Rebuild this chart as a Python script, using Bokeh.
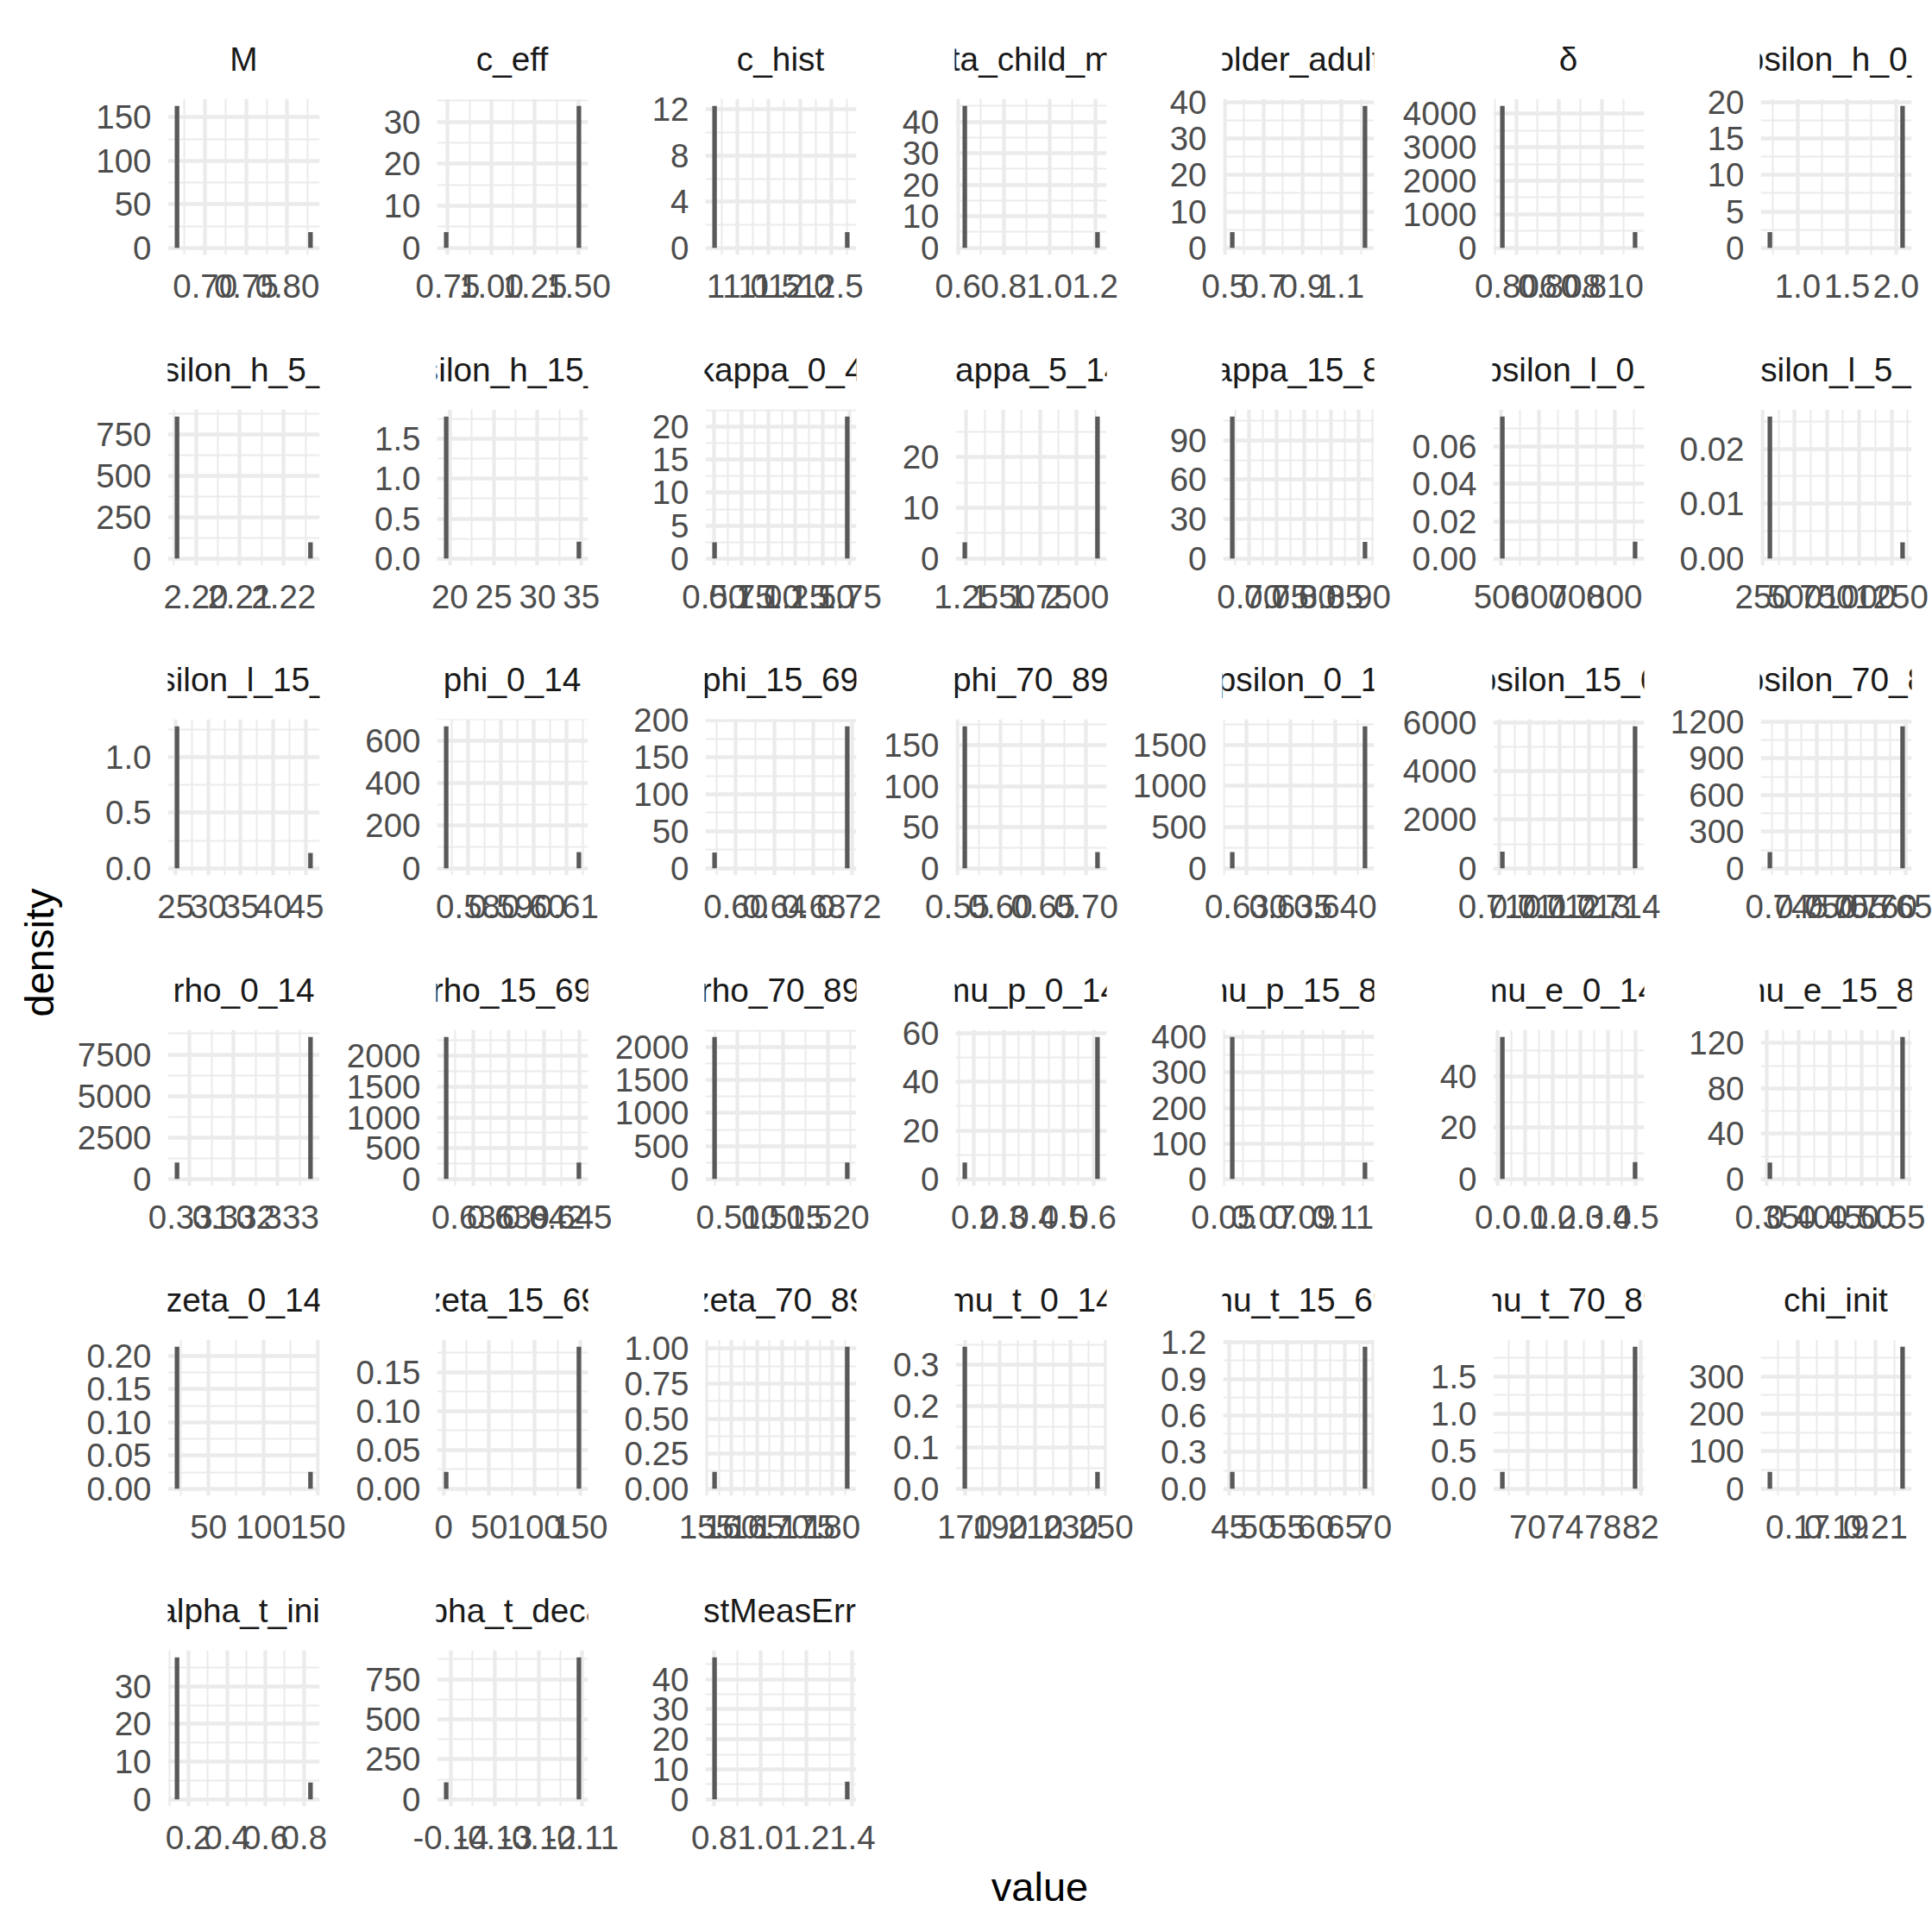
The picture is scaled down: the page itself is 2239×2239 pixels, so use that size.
import math
from bokeh.plotting import figure
from bokeh.layouts import row, column
from bokeh.models import Range1d, FixedTicker, CustomJSTickFormatter, ColumnDataSource, AllLabels
from bokeh.core.properties import value
from bokeh.embed import file_html
from bokeh.resources import INLINE

# ---------------- data ----------------
params = ["M", "c_eff", "c_hist", "beta_child_mult", "older_adult", "δ", "epsilon_h_0_4",
          "epsilon_h_5_14", "epsilon_h_15_89", "kappa_0_4", "kappa_5_14", "kappa_15_89", "epsilon_l_0_4", "epsilon_l_5_14",
          "epsilon_l_15_89", "phi_0_14", "phi_15_69", "phi_70_89", "upsilon_0_14", "upsilon_15_69", "upsilon_70_89",
          "rho_0_14", "rho_15_69", "rho_70_89", "mu_p_0_14", "mu_p_15_89", "mu_e_0_14", "mu_e_15_89",
          "zeta_0_14", "zeta_15_69", "zeta_70_89", "mu_t_0_14", "mu_t_15_69", "mu_t_70_89", "chi_init",
          "alpha_t_init", "alpha_t_decay", "testMeasError"]

lo_value = [0.6658, 0.741, 10.63, 0.63, 0.5395, 0.80536, 0.716,
            2.1957, 19.58, 0.503, 1.24, 0.669, 503, 307,
            25.19, 0.5733, 0.5782, 0.5586, 0.62845, 0.71009, 0.74215,
            0.33071, 0.63373, 0.50745, 0.169, 0.0545, 0.0167, 0.3544,
            21.2, 2.7, 156.6, 170.0, 45.53, 67.32, 0.1556,
            0.1406, -0.14105, 0.8013]
hi_value = [0.8282, 1.502, 12.76, 1.21, 1.2217, 0.81153, 2.066,
            2.2261, 34.72, 1.730, 2.14, 0.9118, 853.5, 1336,
            45.76, 0.6138, 0.7146, 0.7136, 0.64334, 0.71454, 0.76453,
            0.33375, 0.64499, 0.52215, 0.614, 0.1212, 0.4967, 0.5651,
            143.2, 148.6, 182.9, 245.3, 68.51, 81.41, 0.2240,
            0.8337, -0.11077, 1.3773]
lo_density = [163, 3.76, 12.3, 45.0, 4.33, 4230, 2.17,
              857, 1.78, 2.46, 3.2, 108, 0.0762, 0.0259,
              1.278, 667, 21.2, 173, 197, 686, 132.6,
              989, 2309, 2155, 6.76, 400, 55.4, 14.5,
              0.214, 0.0218, 0.121, 0.3445, 0.139, 0.226, 45,
              37.7, 106, 47.3]
hi_density = [18.2, 33.8, 1.37, 5.0, 39.0, 470, 19.5,
              98, 0.21, 21.55, 28.0, 12.7, 0.0090, 0.00296,
              0.139, 76, 192, 19.7, 1724, 5837, 1163,
              8556, 267, 249, 58.5, 46, 6.6, 125.5,
              0.0255, 0.1826, 1.014, 0.0411, 1.165, 1.896, 379,
              4.5, 887, 5.9]

x_tick_labels = [
    ["0.70", "0.75", "0.80"], ["0.75", "1.00", "1.25", "1.50"], ["11.0", "11.5", "12.0", "12.5"],
    ["0.6", "0.8", "1.0", "1.2"], ["0.5", "0.7", "0.9", "1.1"], ["0.806", "0.808", "0.810"],
    ["1.0", "1.5", "2.0"],
    ["2.20", "2.21", "2.22"], ["20", "25", "30", "35"], ["0.50", "0.75", "1.00", "1.25", "1.50", "1.75"],
    ["1.25", "1.50", "1.75", "2.00"], ["0.70", "0.75", "0.80", "0.85", "0.90"], ["500", "600", "700", "800"],
    ["250", "500", "750", "1000", "1250"],
    ["25", "30", "35", "40", "45"], ["0.58", "0.59", "0.60", "0.61"], ["0.60", "0.64", "0.68", "0.72"],
    ["0.55", "0.60", "0.65", "0.70"], ["0.630", "0.635", "0.640"], ["0.710", "0.711", "0.712", "0.713", "0.714"],
    ["0.745", "0.750", "0.755", "0.760", "0.765"],
    ["0.331", "0.332", "0.333"], ["0.636", "0.639", "0.642", "0.645"], ["0.510", "0.515", "0.520"],
    ["0.2", "0.3", "0.4", "0.5", "0.6"], ["0.05", "0.07", "0.09", "0.11"], ["0.0", "0.1", "0.2", "0.3", "0.4", "0.5"],
    ["0.35", "0.40", "0.45", "0.50", "0.55"],
    ["50", "100", "150"], ["0", "50", "100", "150"], ["155", "160", "165", "170", "175", "180"],
    ["170", "190", "210", "230", "250"], ["45", "50", "55", "60", "65", "70"], ["70", "74", "78", "82"],
    ["0.17", "0.19", "0.21"],
    ["0.2", "0.4", "0.6", "0.8"], ["-0.14", "-0.13", "-0.12", "-0.11"], ["0.8", "1.0", "1.2", "1.4"]]

y_tick_labels = [
    ["0", "50", "100", "150"], ["0", "10", "20", "30"], ["0", "4", "8", "12"], ["0", "10", "20", "30", "40"],
    ["0", "10", "20", "30", "40"], ["0", "1000", "2000", "3000", "4000"], ["0", "5", "10", "15", "20"],
    ["0", "250", "500", "750"], ["0.0", "0.5", "1.0", "1.5"], ["0", "5", "10", "15", "20"], ["0", "10", "20"],
    ["0", "30", "60", "90"], ["0.00", "0.02", "0.04", "0.06"], ["0.00", "0.01", "0.02"],
    ["0.0", "0.5", "1.0"], ["0", "200", "400", "600"], ["0", "50", "100", "150", "200"], ["0", "50", "100", "150"],
    ["0", "500", "1000", "1500"], ["0", "2000", "4000", "6000"], ["0", "300", "600", "900", "1200"],
    ["0", "2500", "5000", "7500"], ["0", "500", "1000", "1500", "2000"], ["0", "500", "1000", "1500", "2000"],
    ["0", "20", "40", "60"], ["0", "100", "200", "300", "400"], ["0", "20", "40"], ["0", "40", "80", "120"],
    ["0.00", "0.05", "0.10", "0.15", "0.20"], ["0.00", "0.05", "0.10", "0.15"],
    ["0.00", "0.25", "0.50", "0.75", "1.00"], ["0.0", "0.1", "0.2", "0.3"], ["0.0", "0.3", "0.6", "0.9", "1.2"],
    ["0.0", "0.5", "1.0", "1.5"], ["0", "100", "200", "300"],
    ["0", "10", "20", "30"], ["0", "250", "500", "750"], ["0", "10", "20", "30", "40"]]

BINS = 30

# ---------------- style / layout ----------------
FONT = "Liberation Sans"
TICK_FS = 38.5
STRIP_FS = 38.8
TITLE_FS = 47
BAR_COLOR = "#595959"
GRID_COLOR = "#EBEBEB"
NCOL = 7
FRAME_LEFT = [194, 505, 816, 1106, 1416, 1729, 2039]
FW, FH = 176, 181
LEFT_W = 80
TOTAL_W = 2239
STRIP_H = [92, 87, 86, 87, 86, 87]
TOP_B = 22
BOTTOM_B = [70, 70, 70, 70, 70, 65]
STRIP_MID = 24          # strip text centre above the strip bottom
X_STANDOFF = 22
Y_STANDOFF = 19


def est_w(s):
    w = 0.0
    for ch in s:
        if ch.isdigit():
            w += 0.556
        elif ch == ".":
            w += 0.278
        elif ch == "-":
            w += 0.333
        else:
            w += 0.556
    return w * TICK_FS


def decimals(s):
    return len(s.split(".")[1]) if "." in s else 0


def make_ticker(labels, start, end):
    vals = [float(s) for s in labels]
    step = vals[1] - vals[0] if len(vals) > 1 else 1.0
    ext = [vals[0] - step] + vals + [vals[-1] + step]
    mids = [(a + b) / 2 for a, b in zip(ext[:-1], ext[1:])]
    major = [v for v in vals if start <= v <= end]
    minor = [m for m in mids if start <= m <= end]
    return FixedTicker(ticks=major, minor_ticks=minor), decimals(labels[0])


def style_axis(ax, ticker, dec, standoff):
    ax.ticker = ticker
    ax.formatter = CustomJSTickFormatter(code="return tick.toFixed(%d);" % dec)
    ax.major_label_policy = AllLabels()
    ax.axis_line_color = None
    ax.major_tick_line_color = None
    ax.minor_tick_line_color = None
    ax.major_tick_out = 0
    ax.major_tick_in = 0
    ax.minor_tick_out = 0
    ax.minor_tick_in = 0
    ax.major_label_standoff = standoff
    ax.major_label_text_font = FONT
    ax.major_label_text_font_size = "%spx" % TICK_FS
    ax.major_label_text_color = "#4D4D4D"


def main_panel(i, c, r, bl, br):
    lo, hi = lo_value[i], hi_value[i]
    rng = hi - lo
    w = rng / (BINS - 1)
    x0, x1 = lo - w / 2, hi + w / 2
    xs, xe = x0 - 0.05 * (x1 - x0), x1 + 0.05 * (x1 - x0)
    ymax = max(lo_density[i], hi_density[i])
    ys, ye = -0.05 * ymax, 1.05 * ymax
    fl = FRAME_LEFT[c]
    p = figure(width=br - bl, height=TOP_B + FH + BOTTOM_B[r],
               x_range=Range1d(xs, xe), y_range=Range1d(ys, ye),
               min_border_left=fl - bl, min_border_right=br - (fl + FW),
               min_border_top=TOP_B, min_border_bottom=BOTTOM_B[r],
               toolbar_location=None, output_backend="svg", title=None)
    p.outline_line_color = None
    p.background_fill_color = "white"
    p.border_fill_color = "white"
    xt, xd = make_ticker(x_tick_labels[i], xs, xe)
    yt, yd = make_ticker(y_tick_labels[i], ys, ye)
    style_axis(p.xaxis[0], xt, xd, X_STANDOFF)
    style_axis(p.yaxis[0], yt, yd, Y_STANDOFF)
    for g in (p.xgrid[0], p.ygrid[0]):
        g.grid_line_color = GRID_COLOR
        g.grid_line_width = 4.3
        g.minor_grid_line_color = GRID_COLOR
        g.minor_grid_line_width = 2.1
    src = ColumnDataSource(dict(x=[lo, hi], top=[lo_density[i], hi_density[i]]))
    p.vbar(x="x", top="top", bottom=0, width=w, source=src,
           fill_color=BAR_COLOR, line_color=None)
    return p


def strip_panel(i, c, r, bl, br):
    fl = FRAME_LEFT[c]
    s = figure(width=br - bl, height=STRIP_H[r],
               x_range=Range1d(0, 1), y_range=Range1d(0, STRIP_H[r]),
               min_border_left=fl - bl, min_border_right=br - (fl + FW),
               min_border_top=0, min_border_bottom=0,
               x_axis_type=None, y_axis_type=None,
               toolbar_location=None, output_backend="svg", title=None)
    s.outline_line_color = None
    s.background_fill_color = "white"
    s.border_fill_color = "white"
    s.text(x=[0.5], y=[STRIP_MID], text=[params[i]], text_align="center",
           text_baseline="middle", text_font=value(FONT),
           text_font_size="%spx" % STRIP_FS, text_color="#1A1A1A")
    return s


N = len(params)
nrows = math.ceil(N / NCOL)
grid_children = []
for r in range(nrows):
    idxs = list(range(r * NCOL, min(r * NCOL + NCOL, N)))
    ncols = len(idxs)
    bounds = [LEFT_W]
    for c in range(ncols - 1):
        nxt = idxs[c + 1]
        need = max(est_w(s) for s in y_tick_labels[nxt]) + Y_STANDOFF + 1.5
        bounds.append(int(math.floor(FRAME_LEFT[c + 1] - need)))
    if ncols == NCOL:
        bounds.append(TOTAL_W)
    else:
        bounds.append(FRAME_LEFT[ncols - 1] + FW + 60)
    strips, mains = [], []
    for c, i in enumerate(idxs):
        strips.append(strip_panel(i, c, r, bounds[c], bounds[c + 1]))
        mains.append(main_panel(i, c, r, bounds[c], bounds[c + 1]))
    grid_children.append(row(strips))
    grid_children.append(row(mains))

grid_h = sum(STRIP_H) + sum(TOP_B + FH + b for b in BOTTOM_B)

# y axis title
dens = figure(width=LEFT_W, height=grid_h, x_range=Range1d(0, LEFT_W), y_range=Range1d(0, grid_h),
              min_border=0, x_axis_type=None, y_axis_type=None,
              toolbar_location=None, output_backend="svg", title=None)
dens.outline_line_color = None
panel_top = STRIP_H[0] + TOP_B
panel_bottom = grid_h - BOTTOM_B[-1]
dens.text(x=[45], y=[grid_h - (panel_top + panel_bottom) / 2], text=["density"], angle=math.pi / 2,
          text_align="center", text_baseline="middle", text_font=value(FONT),
          text_font_size="%dpx" % TITLE_FS, text_color="black")

# x axis title
VAL_H = TOTAL_W - grid_h
val = figure(width=TOTAL_W, height=VAL_H, x_range=Range1d(0, TOTAL_W), y_range=Range1d(0, VAL_H),
             min_border=0, x_axis_type=None, y_axis_type=None,
             toolbar_location=None, output_backend="svg", title=None)
val.outline_line_color = None
val.text(x=[(FRAME_LEFT[0] + FRAME_LEFT[-1] + FW) / 2], y=[TOTAL_W - 2186], text=["value"],
         text_align="center", text_baseline="middle", text_font=value(FONT),
         text_font_size="%dpx" % TITLE_FS, text_color="black")

layout = column(row(dens, column(grid_children)), val)

open("out.html", "w").write(file_html(layout, INLINE))
